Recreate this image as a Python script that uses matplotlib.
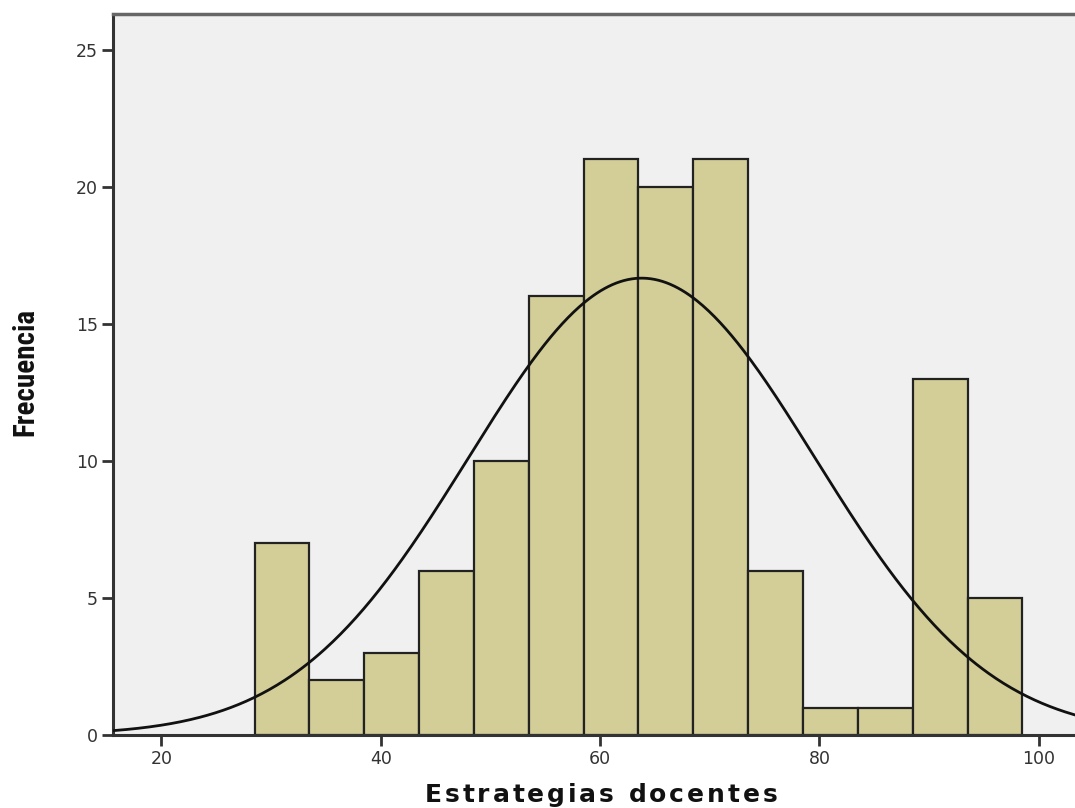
import numpy as np
import matplotlib
matplotlib.use("Agg")
import matplotlib.pyplot as plt
from matplotlib.font_manager import FontProperties

# Data
bin_start = 28.5
bin_width = 5.0
counts = [7, 2, 3, 6, 10, 16, 21, 20, 21, 6, 1, 1, 13, 5]
curve_mean = 63.8
curve_std = 15.8
x_ticks = [20, 40, 60, 80, 100]
y_ticks = [0, 5, 10, 15, 20, 25]
x_label = "Estrategias docentes"
y_label = "Frecuencia"

n_total = sum(counts)
edges = bin_start + bin_width * np.arange(len(counts))

W, H = 1075, 808
fig = plt.figure(figsize=(W / 100, H / 100), dpi=100)
fig.patch.set_facecolor("white")
ax = fig.add_axes([113 / W, 1 - 735 / H, 1 - 113 / W, (735 - 14) / H])
ax.set_facecolor("#f0f0f0")

ax.bar(edges, counts, width=bin_width, align="edge", color="#d3ce97",
       edgecolor="#222222", linewidth=1.6, zorder=2)

xs = np.linspace(15.6, 103.3, 500)
ys = n_total * bin_width / (curve_std * np.sqrt(2 * np.pi)) * np.exp(-0.5 * ((xs - curve_mean) / curve_std) ** 2)
ax.plot(xs, ys, color="#111111", linewidth=2.0, zorder=3)

ax.set_xlim(15.6, 103.3)
ax.set_ylim(0, 26.3)
ax.set_xticks(x_ticks)
ax.set_yticks(y_ticks)
ax.tick_params(axis="both", direction="out", length=8, width=2, color="#333333",
               labelsize=12.5, labelcolor="#333333", pad=3)

ax.spines["right"].set_visible(False)
for s in ["left", "bottom"]:
    ax.spines[s].set_linewidth(2.2)
    ax.spines[s].set_color("#333333")
ax.spines["top"].set_linewidth(2.5)
ax.spines["top"].set_color("#666666")

# x label with letter tracking
renderer = fig.canvas.get_renderer()
fp = FontProperties(family="DejaVu Sans", weight="bold", size=18)

def text_w(s):
    return renderer.get_text_width_height_descent(s, fp, ismath=False)[0]

lw = text_w("l")
positions = []
for i in range(len(x_label)):
    pre = x_label[:i]
    positions.append(0.0 if i == 0 else text_w(pre + "l") - lw)
natural_total = text_w(x_label)
target_left, target_right = 425, 777
tracking = (target_right - target_left - natural_total) / (len(x_label) - 1)
for i, ch in enumerate(x_label):
    if ch == " ":
        continue
    xp = target_left + positions[i] + i * tracking
    fig.text(xp / W, 1 - 795 / H, ch, ha="left", va="center", fontproperties=fp, color="#111111")

fig.text(25 / W, 1 - 372 / H, y_label, ha="center", va="center", rotation=90,
         fontsize=21, fontweight="bold", color="#111111",
         family=["Roboto Condensed", "Liberation Sans Narrow", "DejaVu Sans"], fontstretch="condensed")

fig.savefig("out.png", dpi=100)
